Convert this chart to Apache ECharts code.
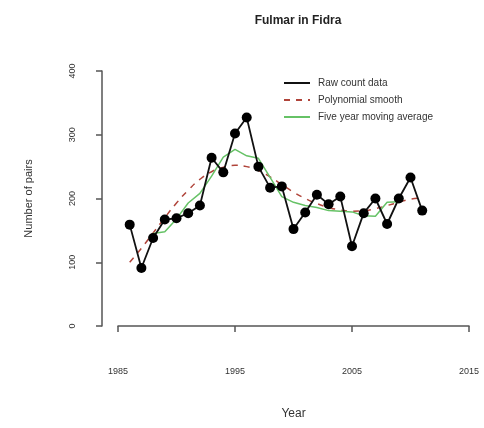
<!DOCTYPE html>
<html><head><meta charset="utf-8">
<script src="https://cdn.jsdelivr.net/npm/echarts@6/dist/echarts.min.js"></script>
<style>html,body{margin:0;padding:0;background:#fff}#c{width:484px;height:428px}</style>
</head><body><div id="c"></div>
<script>
var years = [1986,1987,1988,1989,1990,1991,1992,1993,1994,1995,1996,1997,1998,1999,2000,2001,2002,2003,2004,2005,2006,2007,2008,2009,2010,2011];
var rawCounts = [159,91,138,167,169,177,189,264,241,302,327,250,217,219,152,178,206,191,203,125,177,200,160,200,233,181];
var polySmooth = [100,122,146,170,193,213,230,242,249,252,250,244,234,222,210,200,192,186,182,180,181,184,189,194,199,201];
var maYears = [1988,1989,1990,1991,1992,1993,1994,1995,1996,1997,1998,1999,2000,2001,2002,2003,2004,2005,2006,2007,2008,2009];
var movingAvg = [145,148,168,193,208,235,265,277,267,263,233,203,194,189,186,181,180,179,173,172,194,195];
var xTicks = [1985,1995,2005,2015];
var yTicks = [0,100,200,300,400];
var title = 'Fulmar in Fidra';
var names = ['Raw count data','Polynomial smooth','Five year moving average'];

function pairs(xs, ys){ return xs.map(function(x,i){ return [x, ys[i]]; }); }

var chart = echarts.init(document.getElementById('c'), null, {renderer:'canvas'});
var font = 'Liberation Sans, Arial, sans-serif';
chart.setOption({
  backgroundColor:'#fff',
  animation:false,
  title:{text:title, left:293, textAlign:'center', top:10,
    textStyle:{fontFamily:font, fontSize:12, fontWeight:'bold', color:'#222'}},
  legend:{orient:'vertical', left:278, top:73, itemWidth:26, itemHeight:10, itemGap:7,
    itemStyle:{opacity:0},
    data:names, textStyle:{fontFamily:font, fontSize:10, color:'#333', padding:[0,0,0,3]}},
  grid:{left:118, right:15, top:71, bottom:102},
  xAxis:{type:'value', min:xTicks[0], max:xTicks[xTicks.length-1], interval:10, offset:10,
    name:'Year', nameLocation:'middle', nameGap:72,
    nameTextStyle:{fontFamily:font, fontSize:12, color:'#333'},
    axisLine:{show:true, lineStyle:{color:'#555', width:1.5}},
    axisTick:{show:true, length:6, lineStyle:{color:'#555', width:1.5}},
    axisLabel:{fontFamily:font, fontSize:9, color:'#333', margin:31,
      formatter:function(v){ return String(v); }},
    splitLine:{show:false}},
  yAxis:{type:'value', min:yTicks[0], max:yTicks[yTicks.length-1], interval:100, offset:16,
    name:'Number of pairs', nameLocation:'middle', nameGap:68,
    nameTextStyle:{fontFamily:font, fontSize:11, color:'#333'},
    axisLine:{show:true, lineStyle:{color:'#555', width:1.5}},
    axisTick:{show:true, length:6, lineStyle:{color:'#555', width:1.5}},
    axisLabel:{fontFamily:font, fontSize:9, color:'#333', rotate:90, margin:25},
    splitLine:{show:false}},
  series:[
    {name:names[0], type:'line', data:pairs(years, rawCounts), symbol:'none',
      lineStyle:{color:'#111', width:1.8}, itemStyle:{color:'#111'}, z:3},
    {name:'points', type:'scatter', data:pairs(years, rawCounts), symbol:'circle', symbolSize:10,
      itemStyle:{color:'#000', opacity:1}, z:4},
    {name:names[1], type:'line', data:pairs(years, polySmooth), symbol:'none', smooth:true,
      lineStyle:{color:'#b0443a', width:1.5, type:[6,6]}, itemStyle:{color:'#b0443a'}, z:2},
    {name:names[2], type:'line', data:pairs(maYears, movingAvg), symbol:'none',
      lineStyle:{color:'#66c266', width:1.5}, itemStyle:{color:'#66c266'}, z:2}
  ]
});
</script></body></html>
